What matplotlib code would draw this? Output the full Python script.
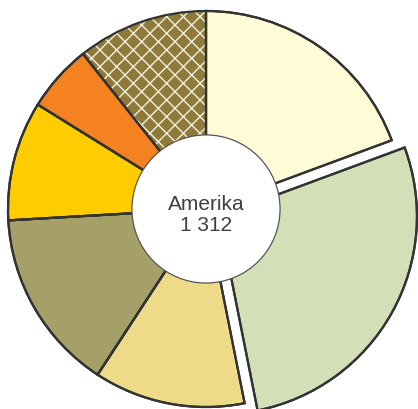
import matplotlib
matplotlib.use("Agg")
import matplotlib.pyplot as plt
from matplotlib.patches import Circle

plt.rcParams['font.family'] = ['Liberation Sans', 'DejaVu Sans']
plt.rcParams['hatch.linewidth'] = 1.0

# Data (clockwise from 12 o'clock)
categories = ["A", "B", "C", "D", "E", "F", "G"]
values = [254, 361, 162, 195, 128, 72, 140]
colors = ["#FFFBD6", "#D3E0B7", "#EEDB8A", "#A59F68", "#FFCC00", "#F58220", "#8E7B3A"]
explode = [0, 0.075, 0, 0, 0, 0, 0]
hatched = [False, False, False, False, False, False, True]
center_label = "Amerika"
center_value = "1 312"

W, H = 418, 410
cx, cy, R = 206, 210, 198

fig = plt.figure(figsize=(W / 100, H / 100), dpi=100)
ax = fig.add_axes([0, 0, 1, 1])
ax.set_aspect('equal')
ax.axis('off')

edge = "#333333"
wedges, _ = ax.pie(values, colors=colors, explode=explode, startangle=90,
                   counterclock=False, radius=1,
                   wedgeprops=dict(edgecolor=edge, linewidth=1.6))
for w, h in zip(wedges, hatched):
    if h:
        w.set_hatch('xx')
        w.set_edgecolor('#F4F0E0')
        w.set_linewidth(0)
# outlines on top
outl, _ = ax.pie(values, explode=explode, startangle=90, counterclock=False,
                 radius=1, wedgeprops=dict(fill=False, edgecolor=edge, linewidth=1.6))

ax.add_patch(Circle((0, 0), 0.374, facecolor='white', edgecolor='#555555',
                    linewidth=0.9, zorder=5))
ax.text(0, -0.025, center_label + "\n" + center_value, ha='center', va='center',
        fontsize=15, color='#404040', linespacing=1.15, zorder=6)

ax.set_xlim(-cx / R, (W - cx) / R)
ax.set_ylim(-(H - cy) / R, cy / R)
fig.savefig("out.png", dpi=100)
